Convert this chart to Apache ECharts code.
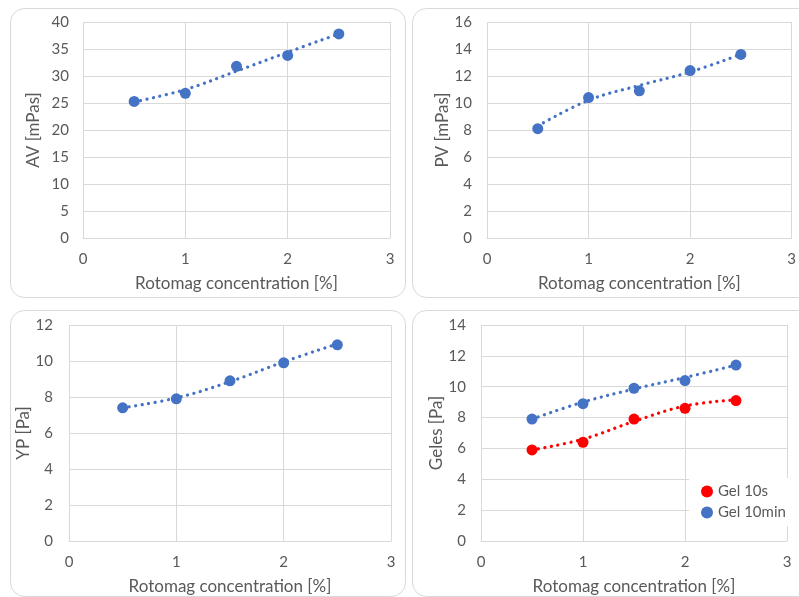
<!DOCTYPE html>
<html><head><meta charset="utf-8">
<script src="https://cdn.jsdelivr.net/npm/echarts@6/dist/echarts.min.js"></script>
<style>html,body{margin:0;padding:0;background:#fff}#c{width:799px;height:597px}</style>
</head><body><div id="c"></div>
<script>
const conc = [0.5, 1, 1.5, 2, 2.5];
const xTicks = [0, 1, 2, 3];
const av = [25.3, 26.8, 31.8, 33.8, 37.8];
const avTrend = [25.2, 27.5, 30.9, 34.4, 37.8];
const pv = [8.1, 10.4, 10.9, 12.4, 13.6];
const pvTrend = [8.3, 10.2, 11.3, 12.3, 13.6];
const yp = [7.4, 7.9, 8.9, 9.9, 10.9];
const ypTrend = [7.4, 7.95, 8.85, 9.95, 10.95];
const gel10s = [5.9, 6.4, 7.9, 8.6, 9.1];
const gel10sTrend = [5.9, 6.6, 7.75, 8.75, 9.15];
const gel10min = [7.9, 8.9, 9.9, 10.4, 11.4];
const gel10minTrend = [7.9, 9.0, 9.85, 10.6, 11.4];
const yTitles = ['AV [mPas]', 'PV [mPas]', 'YP [Pa]', 'Geles [Pa]'];
const yMax = [40, 16, 12, 14];
const yStep = [5, 2, 2, 2];
const xTitle = 'Rotomag concentration [%]';

const FONT = 'Lato';
const GRAY = '#595959';
const BLUE = '#4472C4';
const RED = '#FF0000';

const grids = [
  {left: 83, top: 22, width: 307, height: 216},
  {left: 487, top: 22, width: 306, height: 216},
  {left: 69, top: 325, width: 322, height: 216},
  {left: 481, top: 325, width: 306, height: 216}
];
const yGaps = [41, 36, 25, 29];
const yMargins = [14, 15, 16, 15];

const xAxes = grids.map((g, i) => ({
  type: 'value', gridIndex: i, min: xTicks[0], max: xTicks[xTicks.length-1], interval: 1,
  name: xTitle, nameLocation: 'middle', nameGap: 37,
  nameTextStyle: {color: GRAY, fontSize: 17, fontFamily: FONT},
  axisLine: {lineStyle: {color: '#D9D9D9'}}, axisTick: {show: false},
  axisLabel: {color: GRAY, fontSize: 15, fontFamily: FONT, margin: 14},
  splitLine: {lineStyle: {color: '#D9D9D9'}}
}));
const yAxes = grids.map((g, i) => ({
  type: 'value', gridIndex: i, min: 0, max: yMax[i], interval: yStep[i],
  name: yTitles[i], nameLocation: 'middle', nameGap: yGaps[i],
  nameTextStyle: {color: GRAY, fontSize: 17, fontFamily: FONT},
  axisLine: {show: false}, axisTick: {show: false},
  axisLabel: {color: GRAY, fontSize: 15, fontFamily: FONT, margin: yMargins[i]},
  splitLine: {lineStyle: {color: '#D9D9D9'}}
}));

function pts(vals) { return conc.map((x, i) => [x, vals[i]]); }
function trend(vals, idx, color) {
  return {type: 'line', xAxisIndex: idx, yAxisIndex: idx, data: pts(vals), smooth: 0.4,
    showSymbol: false, symbol: 'none', silent: true, z: 2,
    lineStyle: {color: color, width: 3.2, type: [0.1, 6.5], cap: 'round'}};
}
function marks(name, vals, idx, color) {
  return {name: name, type: 'scatter', xAxisIndex: idx, yAxisIndex: idx, data: pts(vals),
    symbol: 'circle', symbolSize: 11, itemStyle: {color: color, opacity: 1}, z: 3};
}

const panels = [
  {x: 10, y: 8, w: 395, h: 289},
  {x: 412, y: 8, w: 400, h: 289},
  {x: 10, y: 310, w: 395, h: 286},
  {x: 412, y: 310, w: 400, h: 286}
];

const option = {
  animation: false,
  backgroundColor: '#fff',
  graphic: panels.map(p => ({type: 'rect', shape: {x: p.x + 0.5, y: p.y + 0.5, width: p.w, height: p.h, r: 14},
    style: {fill: 'none', stroke: '#D9D9D9', lineWidth: 1}, z: -10})),
  grid: grids,
  xAxis: xAxes,
  yAxis: yAxes,
  legend: {
    data: ['Gel 10s', 'Gel 10min'], orient: 'vertical', left: 689, top: 478,
    backgroundColor: '#fff', padding: [6, 6, 6, 12], itemGap: 6,
    icon: 'circle', itemWidth: 12, itemHeight: 12,
    textStyle: {color: GRAY, fontSize: 15, fontFamily: FONT}
  },
  series: [
    trend(avTrend, 0, BLUE), marks('AV', av, 0, BLUE),
    trend(pvTrend, 1, BLUE), marks('PV', pv, 1, BLUE),
    trend(ypTrend, 2, BLUE), marks('YP', yp, 2, BLUE),
    trend(gel10sTrend, 3, RED), marks('Gel 10s', gel10s, 3, RED),
    trend(gel10minTrend, 3, BLUE), marks('Gel 10min', gel10min, 3, BLUE)
  ]
};
const chart = echarts.init(document.getElementById('c'));
chart.setOption(option);
</script></body></html>
